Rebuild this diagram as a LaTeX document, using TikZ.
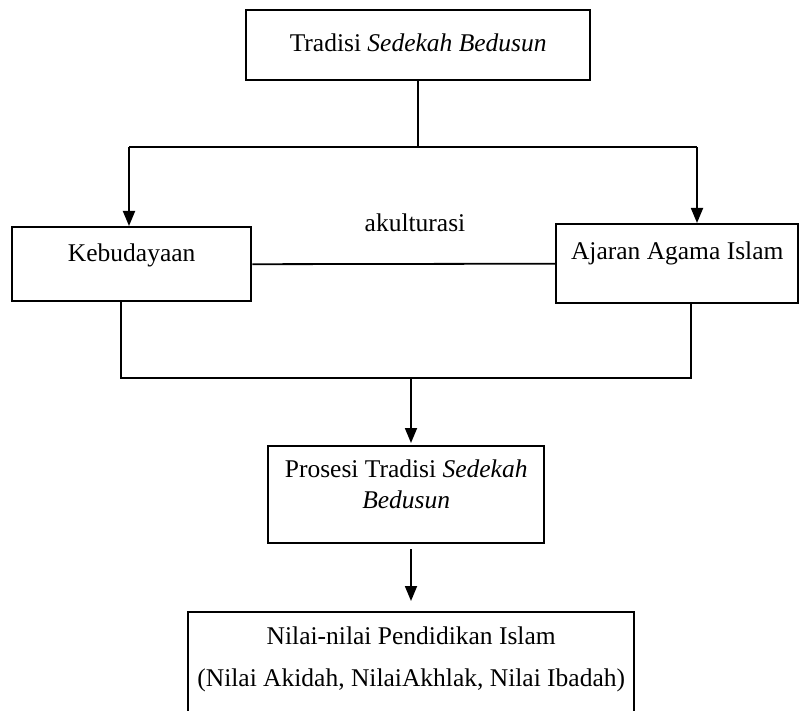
\documentclass[tikz,border=0pt]{standalone}
\usepackage{fontspec}
\setmainfont{Liberation Serif}
\usetikzlibrary{arrows.meta, positioning, calc}

\begin{document}
\begin{tikzpicture}[
    x=1pt, y=-1pt,
    every node/.style={font=\fontsize{25.5}{31}\selectfont},
    block/.style={rectangle, draw, line width=2.4pt, inner sep=0pt, anchor=north west, align=center},
    link/.style={line width=1.8pt},
    arrow/.style={-{Triangle[length=15pt, width=12pt]}, line width=1.8pt}
]
\useasboundingbox (0,0) rectangle (800,711);
% Boxes
\node[block, minimum width=344pt, text height=41pt, text depth=29pt] (tradisi) at (245,9) {Tradisi \textit{Sedekah Bedusun}};
\node[block, minimum width=239pt, text height=34pt, text depth=40pt] (kebud) at (11,226) {Kebudayaan};
\node[block, minimum width=242pt, text height=35pt, text depth=44pt] (ajaran) at (555,223) {Ajaran Agama Islam};
\node[block, minimum width=276pt, text height=62pt, text depth=35pt] (prosesi) at (267,445) {Prosesi Tradisi \textit{Sedekah}\\\textit{Bedusun}};
\node[block, minimum width=446pt, text height=74pt, text depth=40pt] (nilai) at (187,611) {Nilai-nilai Pendidikan Islam\\[11pt](Nilai Akidah, NilaiAkhlak, Nilai Ibadah)};
\node[anchor=base] (akul) at (415,232) {akulturasi};
% Branch points
\coordinate (forkL) at (129,147);
\coordinate (forkR) at (697,147);
\coordinate (joinL) at (121,378);
\coordinate (joinR) at (691,378);
\coordinate (joinM) at (411,378);
% Connectors
\draw[link] (tradisi.south) -- (tradisi.south |- forkL);
\draw[link] (forkL) -- (forkR);
\draw[arrow] (forkL) -- (forkL |- kebud.north);
\draw[arrow] (forkR) -- (forkR |- ajaran.north);
\draw[link] (kebud.east) -- (ajaran.west);
\draw[link] (joinL |- kebud.south) -- (joinL) -- (joinR) -- (joinR |- ajaran.south);
\draw[arrow, shorten >=2pt] (joinM) -- (joinM |- prosesi.north);
\draw[arrow, shorten <=5pt, shorten >=10pt] (joinM |- prosesi.south) -- (joinM |- nilai.north);
\end{tikzpicture}
\end{document}
